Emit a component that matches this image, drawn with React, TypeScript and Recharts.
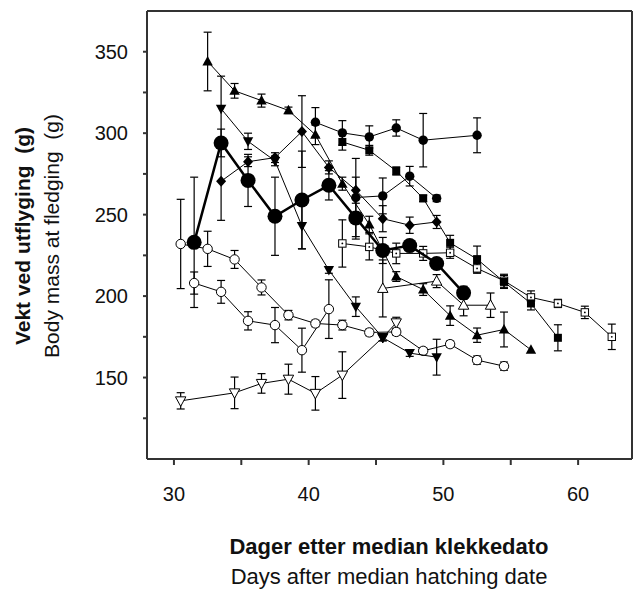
import React from 'react';
import { ComposedChart, Scatter, XAxis, YAxis, ErrorBar } from 'recharts';

// Large filled circles (thick line)
const bigCircleX = [31.5, 33.5, 35.5, 37.5, 39.5, 41.5, 43.5, 45.5, 47.5, 49.5, 51.5];
const bigCircleY = [233, 294, 271, 249, 259, 268, 248, 228, 231, 220, 202];
const bigCircleErr = [40, 8.5, 16, 24, 30, 9, 13, 8, 3, 3, 4];

// Filled up-triangles
const upTriX = [32.5, 34.5, 36.5, 38.5, 40.5, 42.5, 44.5, 46.5, 48.5, 50.5, 52.5, 54.5, 56.5];
const upTriY = [344, 326, 320, 314, 299, 269, 244, 212, 204, 188, 176, 179.5, 167];
const upTriErr = [18, 4.5, 4, 2, 6, 4, 5, 3, 3.6, 6, 4.4, 10.7, 0];

// Filled down-triangles
const downTriX = [33.5, 35.5, 37.5, 39.5, 41.5, 43.5, 45.5, 47.5, 49.5];
const downTriY = [315, 295, 283, 243, 216, 193.5, 174.5, 165, 162.5];
const downTriErr = [20, 5, 3, 14, 2, 6, 2, 2, 11];

// Filled diamonds
const diamondX = [33.5, 35.5, 37.5, 39.5, 41.5, 43.5, 45.5, 47.5, 49.5];
const diamondY = [270.5, 282.5, 285, 301, 279, 265, 247.5, 243.5, 245.5];
const diamondErr = [24, 3, 3, 22, 4, 8, 8, 5, 4];

// Small filled circles (upper)
const circleAX = [40.5, 42.5, 44.5, 46.5, 48.5, 52.5];
const circleAY = [306.7, 300.2, 297.7, 303.2, 295.7, 298.7];
const circleAErr = [9, 7.5, 6.8, 5, 16.4, 10.7];

// Small filled circles (second)
const circleBX = [43.5, 45.5, 47.5, 49.5];
const circleBY = [260.5, 261.5, 273.6, 260];
const circleBErr = [24, 11, 6, 2];

// Filled squares
const squareX = [42.5, 44.5, 46.5, 48.5, 50.5, 52.5, 54.5, 56.5, 58.5];
const squareY = [294.6, 289.5, 276.8, 260, 232.7, 222.7, 208.7, 195.5, 174.4];
const squareErr = [5, 3, 2.5, 2, 4.6, 8, 4, 4, 8];

// Open squares with dot
const openSqX = [42.5, 44.5, 46.5, 48.5, 50.5, 52.5, 54.5, 56.5, 58.5, 60.5, 62.5];
const openSqY = [232.3, 230.2, 226.2, 226.2, 226.6, 217, 209.4, 199.2, 195.5, 190, 175];
const openSqErr = [14.5, 8, 6.3, 4.3, 3.4, 3, 4, 4, 2.5, 3.8, 7.8];

// Open up-triangles
const openUpX = [45.5, 49.5, 51.5, 53.5];
const openUpY = [204.7, 209.2, 194.4, 194.4];
const openUpErr = [17.5, 4, 6.5, 7.5];

// Open circles (upper)
const openCircAX = [30.5, 32.5, 34.5, 36.5, 38.5, 40.5, 42.5, 44.5, 46.5, 48.5, 50.5, 52.5, 54.5];
const openCircAY = [232, 229, 222.5, 205.3, 188.3, 183.2, 182.2, 177.7, 178, 166.4, 170.5, 160.7, 157];
const openCircAErr = [27.4, 10.8, 5.5, 4.6, 2.9, 2, 3, 2, 2, 2, 2, 2.5, 2.5];

// Open circles (lower)
const openCircBX = [31.5, 33.5, 35.5, 37.5, 39.5, 41.5];
const openCircBY = [208, 202.6, 184.8, 182.2, 166.8, 192];
const openCircBErr = [6.8, 7, 5.6, 10.8, 13.5, 18];

// Open down-triangles
const openDownX = [30.5, 34.5, 36.5, 38.5, 40.5, 42.5, 45.5, 46.5];
const openDownY = [135.7, 140.6, 146.4, 149, 140.3, 151.5, 174.6, 183.6];
const openDownErr = [5, 9.7, 6, 9.2, 10.3, 14.3, 2, 3.4];

const xTicks = [30, 35, 40, 45, 50, 55, 60];
const yTicks = [125, 150, 175, 200, 225, 250, 275, 300, 325, 350];

const FONT = '"Liberation Sans", Arial, Helvetica, sans-serif';
const FRAME = '#333';

const build = (xs: number[], ys: number[], es: number[]) =>
  xs.map((x, i) => ({ x, y: ys[i], e: es[i] }));

const makeShape = (kind: string) => (props: any) => {
  const { cx, cy } = props;
  if (cx == null || cy == null || isNaN(cx) || isNaN(cy)) return <g />;
  const k = '#000';
  switch (kind) {
    case 'big':
      return <circle cx={cx} cy={cy} r={7.5} fill={k} />;
    case 'fcircle':
      return <circle cx={cx} cy={cy} r={4.7} fill={k} />;
    case 'ocircle':
      return <circle cx={cx} cy={cy} r={4.7} fill="#fff" stroke={k} strokeWidth={1} />;
    case 'fup':
      return <polygon points={`${cx},${cy - 5.5} ${cx + 5.2},${cy + 4} ${cx - 5.2},${cy + 4}`} fill={k} />;
    case 'fdown':
      return <polygon points={`${cx},${cy + 5.5} ${cx + 5.2},${cy - 4} ${cx - 5.2},${cy - 4}`} fill={k} />;
    case 'oup':
      return <polygon points={`${cx},${cy - 5.5} ${cx + 5.2},${cy + 4} ${cx - 5.2},${cy + 4}`} fill="#fff" stroke={k} strokeWidth={1} />;
    case 'odown':
      return <polygon points={`${cx},${cy + 5.5} ${cx + 5.2},${cy - 4} ${cx - 5.2},${cy - 4}`} fill="#fff" stroke={k} strokeWidth={1} />;
    case 'diamond':
      return <polygon points={`${cx},${cy - 5.5} ${cx + 5},${cy} ${cx},${cy + 5.5} ${cx - 5},${cy}`} fill={k} />;
    case 'fsquare':
      return <rect x={cx - 4} y={cy - 4} width={8} height={8} fill={k} />;
    case 'osquare':
      return (
        <g>
          <rect x={cx - 3.7} y={cy - 3.7} width={7.4} height={7.4} fill="#fff" stroke={k} strokeWidth={1} />
          <circle cx={cx} cy={cy} r={0.9} fill={k} />
        </g>
      );
    default:
      return <circle cx={cx} cy={cy} r={4} fill={k} />;
  }
};

const series = [
  { name: 'openDown', data: build(openDownX, openDownY, openDownErr), shape: 'odown', lw: 1 },
  { name: 'openCircB', data: build(openCircBX, openCircBY, openCircBErr), shape: 'ocircle', lw: 1 },
  { name: 'openCircA', data: build(openCircAX, openCircAY, openCircAErr), shape: 'ocircle', lw: 1 },
  { name: 'openUp', data: build(openUpX, openUpY, openUpErr), shape: 'oup', lw: 1 },
  { name: 'openSq', data: build(openSqX, openSqY, openSqErr), shape: 'osquare', lw: 1 },
  { name: 'square', data: build(squareX, squareY, squareErr), shape: 'fsquare', lw: 1 },
  { name: 'circleB', data: build(circleBX, circleBY, circleBErr), shape: 'fcircle', lw: 1 },
  { name: 'circleA', data: build(circleAX, circleAY, circleAErr), shape: 'fcircle', lw: 1 },
  { name: 'diamond', data: build(diamondX, diamondY, diamondErr), shape: 'diamond', lw: 1 },
  { name: 'downTri', data: build(downTriX, downTriY, downTriErr), shape: 'fdown', lw: 1 },
  { name: 'upTri', data: build(upTriX, upTriY, upTriErr), shape: 'fup', lw: 1 },
  { name: 'bigCircle', data: build(bigCircleX, bigCircleY, bigCircleErr), shape: 'big', lw: 2.5 },
];

export default function App() {
  return (
    <div style={{ position: 'absolute', left: 0, top: 0, width: 633, height: 592, background: '#fff' }}>
      <ComposedChart width={633} height={592} margin={{ top: 11, right: 1, bottom: 0, left: 0 }}>
        <XAxis
          xAxisId="b"
          type="number"
          dataKey="x"
          domain={[28, 64]}
          allowDataOverflow
          ticks={xTicks}
          interval={0}
          tickFormatter={(v: number) => (v % 10 === 0 ? String(v) : '')}
          height={133}
          tickSize={6}
          tickMargin={22}
          axisLine={{ stroke: FRAME, strokeWidth: 2 }}
          tickLine={{ stroke: FRAME, strokeWidth: 2 }}
          tick={{ fontSize: 20, fill: '#111', fontFamily: FONT }}
        />
        <XAxis
          xAxisId="t"
          orientation="top"
          type="number"
          domain={[28, 64]}
          allowDataOverflow
          ticks={xTicks}
          interval={0}
          mirror
          tick={false}
          height={20}
          tickSize={7}
          axisLine={{ stroke: FRAME, strokeWidth: 2 }}
          tickLine={{ stroke: FRAME, strokeWidth: 2 }}
        />
        <YAxis
          yAxisId="l"
          type="number"
          dataKey="y"
          domain={[100, 375]}
          allowDataOverflow
          ticks={yTicks}
          interval={0}
          tickFormatter={(v: number) => (v % 50 === 0 ? String(v) : '')}
          width={147}
          tickSize={4}
          tickMargin={15}
          axisLine={{ stroke: FRAME, strokeWidth: 2 }}
          tickLine={{ stroke: FRAME, strokeWidth: 2 }}
          tick={{ fontSize: 20, fill: '#111', fontFamily: FONT }}
        />
        <YAxis
          yAxisId="r"
          orientation="right"
          type="number"
          domain={[100, 375]}
          allowDataOverflow
          ticks={yTicks}
          interval={0}
          mirror
          tick={false}
          width={20}
          tickSize={7}
          axisLine={{ stroke: FRAME, strokeWidth: 2 }}
          tickLine={{ stroke: FRAME, strokeWidth: 2 }}
        />
        {series.map((s) => (
          <Scatter
            key={s.name}
            name={s.name}
            data={s.data}
            xAxisId="b"
            yAxisId="l"
            dataKey="y"
            line={{ stroke: '#000', strokeWidth: s.lw }}
            lineType="joint"
            shape={makeShape(s.shape)}
            isAnimationActive={false}
          >
            <ErrorBar dataKey="e" direction="y" width={4} stroke="#000" strokeWidth={1.2} />
          </Scatter>
        ))}
      </ComposedChart>
      <svg
        width={633}
        height={592}
        style={{ position: 'absolute', left: 0, top: 0, pointerEvents: 'none' }}
      >
        <text x={389} y={554} textAnchor="middle" fontFamily={FONT} fontSize={22} fontWeight="bold" fill="#111">
          Dager etter median klekkedato
        </text>
        <text x={389} y={584} textAnchor="middle" fontFamily={FONT} fontSize={22} fill="#111">
          Days after median hatching date
        </text>
        <text
          transform="translate(30,236) rotate(-90)"
          textAnchor="middle"
          fontFamily={FONT}
          fontSize={21}
          fontWeight="bold"
          fill="#111"
          style={{ whiteSpace: 'pre' }}
        >
          {'Vekt ved utflyging  (g)'}
        </text>
        <text
          transform="translate(59,236) rotate(-90)"
          textAnchor="middle"
          fontFamily={FONT}
          fontSize={21}
          fill="#111"
          style={{ whiteSpace: 'pre' }}
        >
          {'Body mass at fledging  (g)'}
        </text>
      </svg>
    </div>
  );
}
